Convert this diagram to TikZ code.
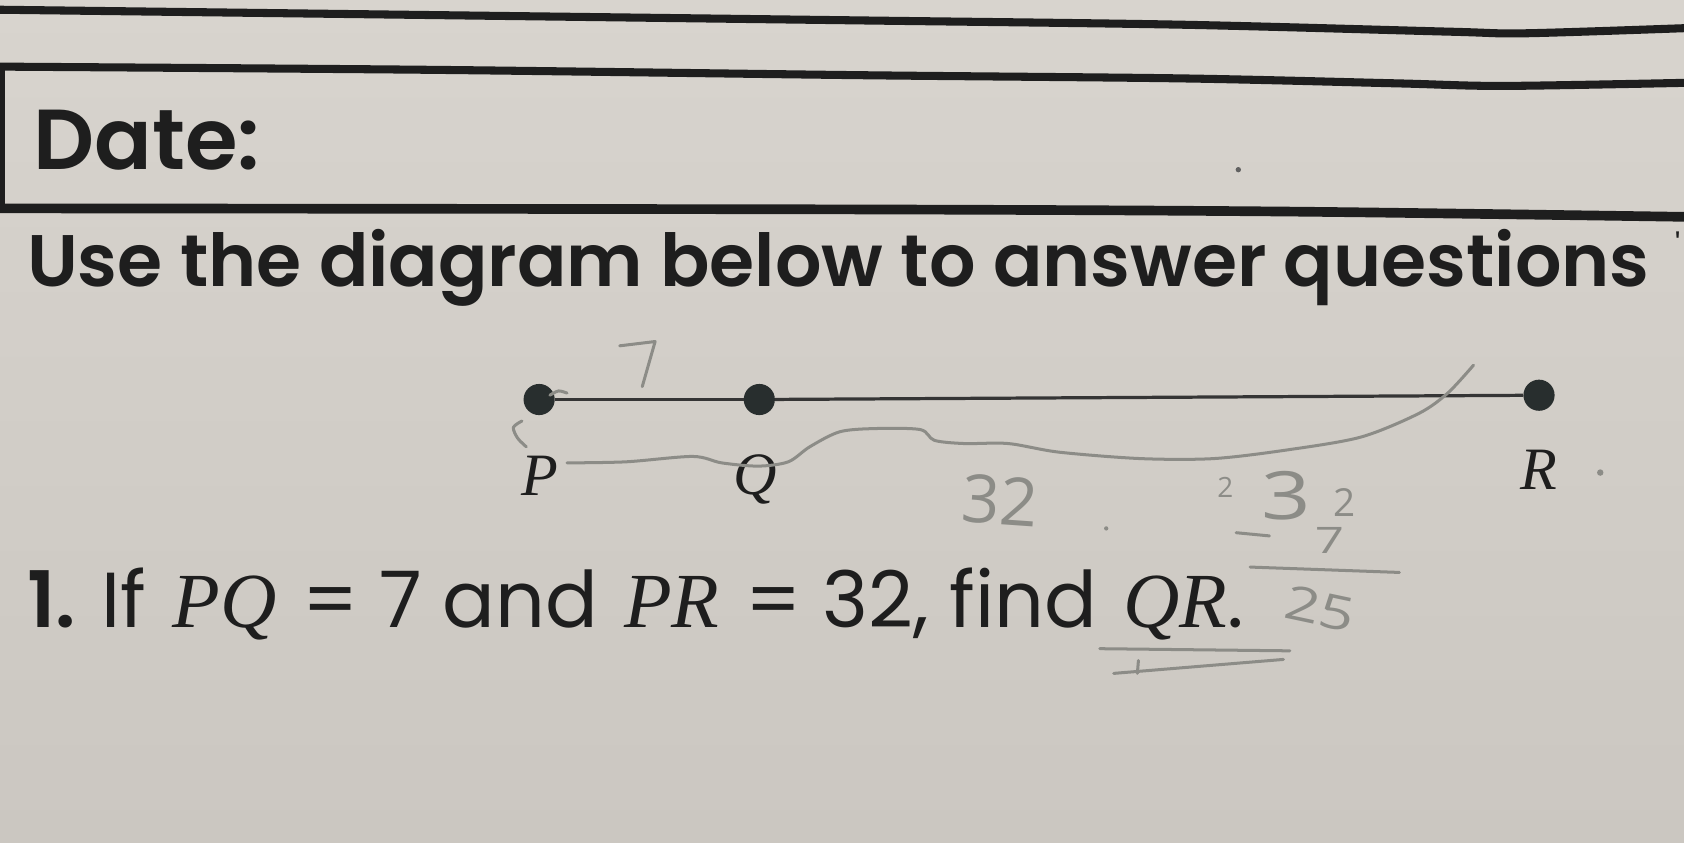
\documentclass[tikz,border=0pt]{standalone}
\usepackage{fontspec}
\usepackage{graphicx}
\newfontfamily\gothic{Poppins}[BoldFont={Poppins SemiBold}]
\newfontfamily\timesf{Liberation Serif}
\newfontfamily\hand{Open Sans}
\definecolor{paperA}{RGB}{216,212,206}
\definecolor{paperB}{RGB}{203,199,193}
\definecolor{ink}{RGB}{30,30,30}
\definecolor{dotc}{RGB}{40,46,46}
\definecolor{pencilc}{RGB}{140,140,135}
\begin{document}
\begin{tikzpicture}[x=1pt,y=-1pt,
  rule/.style={draw=ink, line width=7.5pt},
  segline/.style={draw=ink!90, line width=3pt},
  ptdot/.style={circle, fill=dotc, inner sep=0pt, minimum size=29pt},
  lbl/.style={font=\timesf\itshape\fontsize{56}{56}\selectfont, text=ink, inner sep=0pt, anchor=base},
  pencil/.style={draw=pencilc, line width=2.8pt, line cap=round, line join=round},
  hw/.style={text=pencilc, inner sep=0pt, anchor=base, text height=0.7em, text depth=0pt}]
% background
\shade[top color=paperA, bottom color=paperB] (0,0) rectangle (1568,784);
\useasboundingbox (0,0) rectangle (1568,784);
% ruled lines
\draw[rule] plot[smooth] coordinates {(-5,9) (400,14) (800,19) (1100,23) (1350,29.5) (1420,31) (1575,26)};
\draw[rule] plot[smooth] coordinates {(-5,62) (400,65) (800,70) (1100,73) (1300,77.6) (1400,80) (1575,77)};
\draw[rule, line width=9pt] plot[smooth] coordinates {(-5,194) (800,195) (1200,197) (1575,202)};
\draw[draw=ink, line width=4.5pt] (2,62) -- (2,194);
% header texts
\node[anchor=base west, inner sep=0pt, text=ink] (date) at (31,158)
  {\resizebox{211pt}{!}{\gothic\bfseries Date:}};
\node[anchor=base west, inner sep=0pt, text=ink] (head) at (25,267)
  {\resizebox{1510pt}{!}{\gothic\bfseries Use the diagram below to answer questions}};
\node[text=ink, inner sep=0pt, anchor=base] (tick) at (1562,240) {\gothic\fontsize{30}{30}\selectfont '};
% segment
\node[ptdot] (P) at (502,372) {};
\node[ptdot] (Q) at (707,372) {};
\node[ptdot] (R) at (1433,368) {};
\draw[segline] (P) -- (Q);
\draw[segline] (Q) -- (R);
\node[lbl] (lp) at (503,461) {P};
\node[lbl] (lq) at (703,460) {Q};
\node[lbl] (lr) at (1433,456) {R};
% question
\node[anchor=base west, inner sep=0pt, text=ink] (q1) at (25,584)
  {\resizebox{1132pt}{!}{{\gothic\bfseries 1.}\ {\gothic If} {\timesf\itshape PQ} {\gothic = 7 and} {\timesf\itshape PR} {\gothic = 32, find} {\timesf\itshape QR}{\gothic .}}};
% pencil work
\draw[pencil] (577,322) -- (610,318) -- (598,360);
\draw[pencil] plot[smooth] coordinates {(486,392) (478,398) (482,408) (490,416)};
\draw[pencil] plot[smooth] coordinates {(512,368) (520,364) (528,366)};
\draw[pencil] plot[smooth] coordinates {(528,431) (583,430) (645,425) (672,431) (706,434) (734,430) (754,416) (782,402) (816,399) (857,400) (870,410) (898,413) (939,413) (986,421) (1062,427) (1130,427) (1198,419) (1267,407) (1321,385) (1348,366) (1372,340)};
\node[hw, font=\hand\fontsize{62}{62}\selectfont, rotate=-4] (n32) at (930,488) {32};
\fill[pencilc] (1030,492) circle (2pt);
\node[hw, font=\hand\fontsize{26}{26}\selectfont] (s2) at (1141,463) {2};
\node[hw, font=\hand\fontsize{62}{62}\selectfont, xscale=1.3] (s3) at (1198,484) {3};
\node[hw, font=\hand\fontsize{36}{36}\selectfont] (s2b) at (1252,481) {2};
\draw[pencil] (1151,496) -- (1182,499);
\node[hw, font=\hand\fontsize{34}{34}\selectfont, xscale=1.4] (s7) at (1238,515) {7};
\draw[pencil] (1164,528) -- (1303,533);
\node[hw, font=\hand\fontsize{44}{44}\selectfont, rotate=-12, xscale=1.3] (s25) at (1226,582) {25};
\draw[pencil] (1024,604) -- (1201,606);
\draw[pencil] (1037,627) -- (1195,614);
\draw[pencil] (1060,615) -- (1059,627);
\fill[pencilc] (1490,440) circle (3pt);
\fill[ink!70] (1153,158) circle (2.5pt);
\end{tikzpicture}
\end{document}
